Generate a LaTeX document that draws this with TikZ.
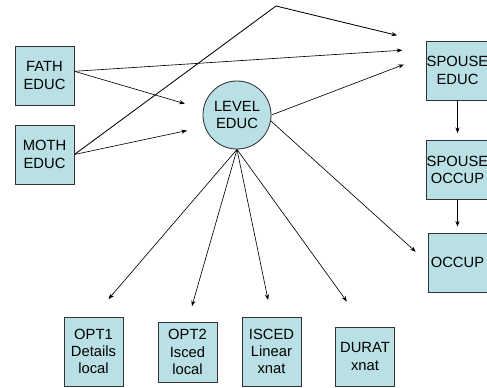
\documentclass[tikz,border=0pt]{standalone}
\usepackage{fontspec}
\setmainfont{Liberation Sans}
\usepackage{tikz}
\usetikzlibrary{arrows.meta}

\tikzset{
  var/.style={draw=black!80,line width=0.6pt,fill={rgb,255:red,185;green,224;blue,228},
    inner sep=0pt,align=center,font=\fontsize{10.5}{12.3}\selectfont},
  box/.style={var,rectangle,minimum width=1.475cm,minimum height=1.475cm},
  path/.style={-{Stealth[length=4pt,width=3pt]},line width=0.45pt}
}

\begin{document}
\begin{tikzpicture}[x=0.025cm,y=-0.025cm]
\useasboundingbox (0,0) rectangle (487,388);
\node[box] (fath) at (44.5,75.5) {FATH\\EDUC};
\node[box] (moth) at (44.5,154.5) {MOTH\\EDUC};
\node[var,circle,minimum size=1.7cm] (level) at (237,115) {LEVEL\\EDUC};
\node[box] (spedu) at (457.5,70.5) {SPOUSE\\EDUC};
\node[box] (spocc) at (457.5,170) {SPOUSE\\OCCUP};
\node[box] (occ) at (457.5,262.5) {OCCUP};
\node[box,minimum height=1.725cm] (opt1) at (93.5,351.5) {OPT1\\Details\\local};
\node[box,minimum height=1.5cm] (opt2) at (187.5,352) {OPT2\\Isced\\local};
\node[box,minimum height=1.725cm] (isced) at (271.5,351.5) {ISCED\\Linear\\xnat};
\node[box,minimum height=1.475cm] (durat) at (365,356.5) {DURAT\\xnat};
\coordinate (bend) at (276,6);
% parents
\draw[path,shorten >=19*0.025cm] (fath.8) -- (level.170);
\draw[path,shorten >=18*0.025cm] (moth.east) -- (level.200);
\draw[path,shorten >=24*0.025cm] (fath.8) -- (spedu.145);
\draw[path,line width=0.6pt,shorten >=30*0.025cm] (moth.east) -- (bend) -- (spedu.138);
\draw[path,shorten >=24*0.025cm] (level.east) -- (spedu.155);
% spouse and own occupation
\draw[path,shorten >=7*0.025cm] (spedu) -- (spocc);
\draw[path,shorten >=6*0.025cm] (spocc) -- (occ);
\draw[path,shorten >=16*0.025cm] (level.-10) -- (occ.west);
% measures
\draw[path,shorten >=23*0.025cm] (level.south) -- (opt1.north);
\draw[path,shorten >=16*0.025cm] (level.south) -- (opt2.north);
\draw[path,shorten >=17*0.025cm] (level.south) -- (isced.north);
\draw[path,shorten >=31*0.025cm] (level.south) -- (durat.north);
\end{tikzpicture}
\end{document}
